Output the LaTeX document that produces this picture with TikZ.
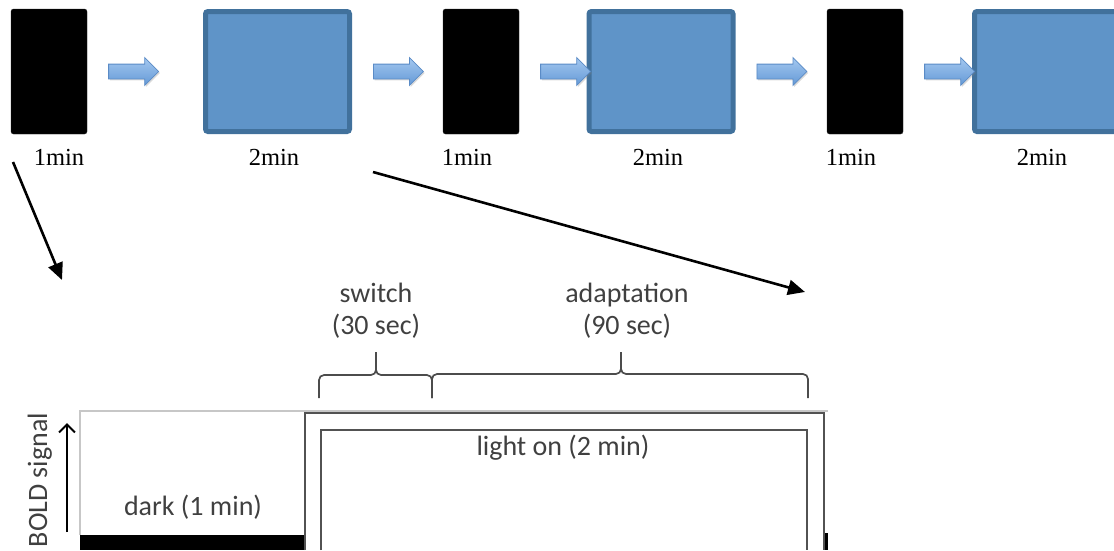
\documentclass[tikz,border=0pt]{standalone}
\usepackage{fontspec}
\newfontfamily\plotfont{Carlito}
\newfontfamily\timefont{Liberation Serif}
\usetikzlibrary{arrows.meta,positioning,shapes.arrows,shadows}

\definecolor{boxblue}{HTML}{5F94C8}
\definecolor{boxedge}{HTML}{41719C}
\definecolor{arrowtop}{HTML}{A4C8F0}
\definecolor{arrowbot}{HTML}{6499D6}
\definecolor{arrowedge}{HTML}{5A8BC6}
\definecolor{plotgrey}{HTML}{404040}

\begin{document}
\begin{tikzpicture}[
  x=1pt, y=-1pt,
  node distance=21pt,
  darkbox/.style={fill=black, draw=black!85, rounded corners=2.5pt, minimum width=76pt, minimum height=125pt, inner sep=0pt},
  lightbox/.style={fill=boxblue, draw=boxedge, line width=5pt, rounded corners=2.5pt, minimum width=144pt, minimum height=120pt, inner sep=0pt},
  nextarrow/.style={single arrow, single arrow head extend=6.5pt, minimum height=50pt, inner xsep=0pt, inner ysep=7pt, draw=arrowedge, line width=0.8pt, top color=arrowtop, bottom color=arrowbot, drop shadow={shadow xshift=1.2pt, shadow yshift=-1.5pt, opacity=0.3}},
  duration/.style={font=\timefont\fontsize{24.5}{28}\selectfont, anchor=base},
  zoomline/.style={-{Triangle[length=17pt,width=15pt]}, line width=2.6pt},
  plottext/.style={font=\plotfont\fontsize{28}{32}\selectfont, text=plotgrey, anchor=base},
  frame/.style={draw=black!22, line width=1.4pt},
  trace/.style={draw=black!68, line width=2.6pt},
  curly/.style={draw=black!70, line width=1.7pt, rounded corners=5pt}
]
\useasboundingbox (0,0) rectangle (1114,550);
\clip (0,0) rectangle (1114,550);

\node[darkbox] (dark1) at (49,71.5) {};
\node[lightbox] (light1) at (277.5,71.5) {};
\node[darkbox] (dark2) at (481,71.5) {};
\node[lightbox] (light2) at (661,71.5) {};
\node[darkbox] (dark3) at (865,71.5) {};
\node[lightbox] (light3) at (1046.5,71.5) {};

\node[nextarrow, right=of dark1] (next1) {};
\node[nextarrow, right=of light1] (next2) {};
\node[nextarrow, right=of dark2] (next3) {};
\node[nextarrow, right=of light2] (next4) {};
\node[nextarrow, right=of dark3] (next5) {};

\node[duration] (time1) at (59,165) {1min};
\node[duration] (time2) at (274,165) {2min};
\node[duration] (time3) at (467,165) {1min};
\node[duration] (time4) at (658,165) {2min};
\node[duration] (time5) at (851,165) {1min};
\node[duration] (time6) at (1042,165) {2min};

\coordinate (fromdark) at (13,162);
\coordinate (todark) at (62,280);
\coordinate (fromlight) at (373,172);
\coordinate (tolight) at (805,292);
\draw[zoomline] (fromdark) -- (todark);
\draw[zoomline] (fromlight) -- (tolight);

\draw[frame] (80,535) -- (80,411) -- (828,411);
\fill (80,535) rectangle (305,550);
\fill (824,533) rectangle (828,550);
\draw[trace] (305,550) |- (824,413) -- (824,550);
\draw[trace] (321,550) |- (807,430) -- (807,550);

\draw[curly] (319,398) |- (376,375) -- (376,352);
\draw[curly] (376,352) -- (376,375) -| (432,398);
\draw[curly] (432,398) |- (621,374) -- (621,352);
\draw[curly] (621,352) -- (621,374) -| (808,398);

\node[plottext] (switchname) at (376,302) {switch};
\node[plottext] (switchtime) at (376,334) {(30 sec)};
\node[plottext] (adaptname) at (627,302) {adaptation};
\node[plottext] (adapttime) at (627,334) {(90 sec)};
\node[plottext] (lighton) at (563,455) {light on (2 min)};
\node[plottext] (darkon) at (193,515) {dark (1 min)};
\node[plottext, rotate=90] (bold) at (47,480) {BOLD signal};

\coordinate (boldlow) at (67,532);
\coordinate (boldhigh) at (67,423);
\draw[-{Straight Barb[length=8pt,width=16pt]}, line width=2pt] (boldlow) -- (boldhigh);
\end{tikzpicture}
\end{document}
